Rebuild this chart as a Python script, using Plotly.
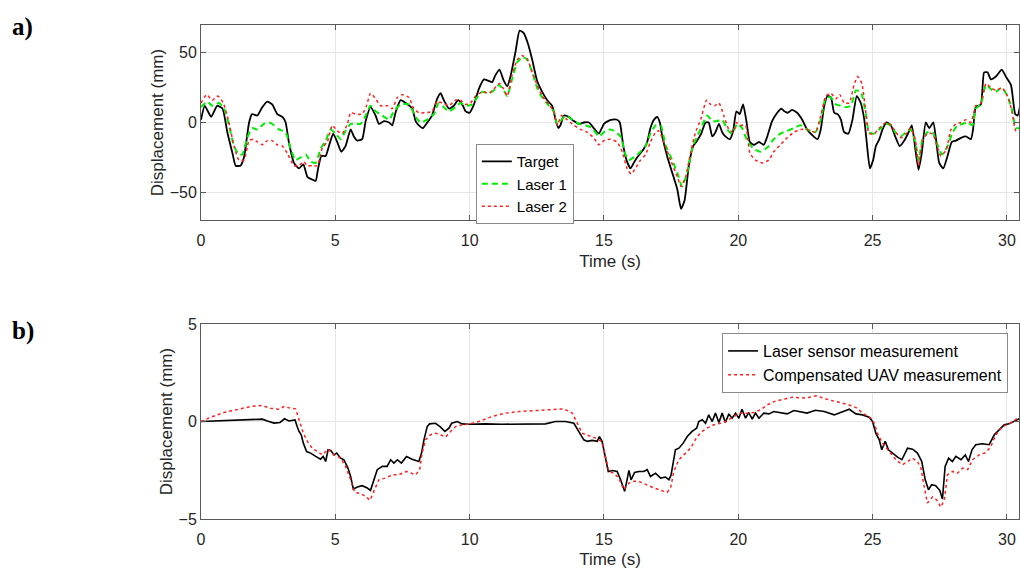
import plotly.graph_objects as go

# ---------------- Panel a) data ----------------
target_t = [0, 0.14, 0.38, 0.6, 0.8, 0.98, 1.17, 1.29, 1.47, 1.6, 1.79, 1.9, 2.1, 2.28, 2.47, 2.65, 2.84, 3.03, 3.15, 3.27, 3.46, 3.65, 3.81, 3.96, 4.14, 4.27, 4.35, 4.48, 4.64, 4.76, 4.92, 5.07, 5.22, 5.38, 5.57, 5.69, 5.82, 6.0, 6.13, 6.31, 6.5, 6.62, 6.81, 7.0, 7.12, 7.24, 7.43, 7.62, 7.86, 7.99, 8.11, 8.26, 8.42, 8.6, 8.79, 8.92, 9.04, 9.23, 9.41, 9.57, 9.75, 9.85, 10.0, 10.16, 10.34, 10.53, 10.69, 10.84, 10.96, 11.11, 11.27, 11.4, 11.52, 11.71, 11.86, 12.02, 12.18, 12.33, 12.51, 12.7, 12.89, 13.07, 13.2, 13.3, 13.38, 13.51, 13.69, 13.88, 14.07, 14.25, 14.44, 14.62, 14.81, 15.0, 15.15, 15.31, 15.49, 15.59, 15.72, 15.84, 15.99, 16.11, 16.24, 16.36, 16.48, 16.61, 16.73, 16.86, 16.98, 17.08, 17.17, 17.35, 17.54, 17.73, 17.87, 18.0, 18.16, 18.32, 18.47, 18.62, 18.78, 18.9, 19.03, 19.15, 19.28, 19.4, 19.52, 19.69, 19.81, 19.93, 20.05, 20.18, 20.31, 20.43, 20.58, 20.77, 20.95, 21.08, 21.26, 21.45, 21.6, 21.72, 21.84, 22.0, 22.19, 22.38, 22.56, 22.75, 22.95, 23.07, 23.2, 23.32, 23.45, 23.57, 23.7, 23.82, 23.94, 24.1, 24.25, 24.41, 24.56, 24.69, 24.77, 24.9, 25.02, 25.12, 25.25, 25.37, 25.52, 25.68, 25.84, 26.01, 26.18, 26.34, 26.46, 26.59, 26.71, 26.83, 26.98, 27.11, 27.26, 27.36, 27.48, 27.63, 27.79, 27.95, 28.1, 28.29, 28.47, 28.66, 28.74, 28.84, 29.03, 29.15, 29.28, 29.4, 29.59, 29.81, 29.96, 30.15, 30.31, 30.4, 30.5]
target_y = [2, 12, 4, 12, 10, -7, -22, -31, -31, -25, 0, 6, 5, 11, 15, 13, 6, 4, 0, -14, -29, -33, -30, -39, -41, -42, -34, -24, -24, -17, -8, -14, -21, -17, -5, -10, -13, -12, 1, 11, 5, -1, 1, 0, -2, 7, 16, 14, 10, 1, -2, -4, 0, 5, 17, 21, 16, 10, 12, 16, 12, 8, 7, 13, 24, 31, 30, 29, 34, 38, 30, 26, 33, 51, 66, 64, 56, 45, 30, 22, 16, 12, 2, -4, -2, 5, 4, 1, -1, 0, 0, -4, -8, -1, 1, 2, 2, 0, -17, -27, -33, -29, -25, -22, -19, -14, -4, 2, 4, 0, -10, -24, -36, -48, -62, -56, -31, -17, -13, -8, 0, 0, -10, -7, -1, -7, -10, -12, -6, 8, 6, 13, 0, -14, -16, -14, -16, -10, 1, 7, 10, 8, 7, 9, 7, 2, -5, -9, -12, -5, 12, 19, 18, 7, 6, 2, -7, -8, 2, 19, 14, 2, -12, -33, -27, -17, -12, -5, 0, -2, -10, -17, -13, -7, -2, -19, -34, -22, 0, -4, 0, -12, -29, -33, -24, -14, -13, -11, -10, -12, -5, 11, 13, 36, 36, 31, 33, 38, 33, 27, 6, 5, 13]

laser1_t = [0, 0.24, 0.42, 0.67, 0.86, 1.04, 1.23, 1.41, 1.54, 1.72, 1.91, 2.1, 2.34, 2.53, 2.72, 2.9, 3.15, 3.34, 3.52, 3.71, 3.9, 4.08, 4.27, 4.45, 4.64, 4.83, 5.01, 5.2, 5.38, 5.57, 5.76, 5.94, 6.13, 6.31, 6.5, 6.75, 7.0, 7.18, 7.43, 7.74, 7.99, 8.17, 8.42, 8.67, 8.85, 9.04, 9.23, 9.47, 9.66, 9.85, 10.1, 10.28, 10.47, 10.72, 10.9, 11.09, 11.27, 11.4, 11.58, 11.77, 11.96, 12.14, 12.33, 12.51, 12.7, 12.95, 13.13, 13.26, 13.38, 13.57, 13.82, 14.07, 14.31, 14.56, 14.81, 15.06, 15.24, 15.37, 15.62, 15.8, 15.93, 16.11, 16.36, 16.55, 16.73, 16.92, 17.11, 17.29, 17.54, 17.73, 17.91, 18.1, 18.28, 18.47, 18.66, 18.84, 19.03, 19.21, 19.4, 19.59, 19.77, 19.96, 20.14, 20.33, 20.58, 20.83, 21.08, 21.32, 21.57, 21.82, 22.07, 22.32, 22.56, 22.87, 23.07, 23.26, 23.45, 23.63, 23.82, 24.0, 24.19, 24.38, 24.56, 24.75, 24.87, 25.06, 25.25, 25.5, 25.68, 25.87, 26.05, 26.24, 26.42, 26.59, 26.71, 26.86, 27.04, 27.23, 27.42, 27.58, 27.79, 27.98, 28.16, 28.35, 28.53, 28.72, 28.84, 29.03, 29.22, 29.4, 29.59, 29.81, 30.02, 30.18, 30.33, 30.5]
laser1_y = [11, 15, 12, 14, 10, -2, -17, -23, -23, -11, -4, -5, -1, 0, -2, -5, -7, -19, -27, -25, -23, -28, -29, -19, -13, -5, -8, -12, -6, -1, -1, -1, 5, 12, 8, 5, 2, 8, 13, 13, 4, 0, 2, 6, 14, 11, 8, 11, 14, 12, 13, 18, 22, 21, 23, 27, 23, 19, 31, 43, 47, 45, 36, 25, 18, 12, 8, -1, 1, 5, 2, -1, -2, -4, -10, -6, -5, -6, -10, -23, -27, -25, -21, -17, -8, -2, -2, -16, -27, -36, -46, -36, -19, -10, -2, 5, 1, 1, 2, -5, -8, -1, -4, -13, -19, -21, -18, -12, -8, -6, -4, -2, -5, -7, 2, 18, 18, 13, 12, 11, 12, 23, 22, 6, -7, -8, -5, -1, -2, -8, -10, -7, -5, -14, -27, -12, -7, -7, -16, -23, -17, -7, -2, -1, 0, -2, 10, 13, 27, 24, 22, 25, 19, 10, -4, -4]

laser2_t = [0, 0.21, 0.42, 0.63, 0.83, 1.04, 1.23, 1.41, 1.6, 1.79, 1.95, 2.1, 2.28, 2.47, 2.65, 2.84, 3.03, 3.21, 3.46, 3.65, 3.81, 3.96, 4.14, 4.33, 4.52, 4.7, 4.89, 5.07, 5.26, 5.45, 5.57, 5.76, 6.0, 6.16, 6.31, 6.5, 6.69, 6.94, 7.12, 7.31, 7.49, 7.74, 7.92, 8.11, 8.36, 8.6, 8.79, 8.98, 9.23, 9.47, 9.66, 9.85, 10.03, 10.22, 10.47, 10.72, 10.9, 11.11, 11.27, 11.4, 11.58, 11.77, 11.96, 12.14, 12.33, 12.51, 12.7, 12.95, 13.13, 13.26, 13.42, 13.63, 13.88, 14.13, 14.38, 14.62, 14.81, 15.0, 15.24, 15.49, 15.68, 15.86, 16.01, 16.17, 16.36, 16.55, 16.73, 16.92, 17.04, 17.23, 17.48, 17.73, 17.87, 18.04, 18.22, 18.41, 18.6, 18.82, 18.97, 19.12, 19.28, 19.46, 19.65, 19.81, 19.93, 20.08, 20.27, 20.43, 20.64, 20.89, 21.14, 21.32, 21.57, 21.82, 22.07, 22.32, 22.56, 22.87, 23.07, 23.26, 23.45, 23.63, 23.78, 23.94, 24.13, 24.31, 24.44, 24.6, 24.75, 24.87, 25.06, 25.25, 25.5, 25.68, 25.87, 26.05, 26.24, 26.42, 26.59, 26.71, 26.86, 27.04, 27.23, 27.42, 27.54, 27.73, 27.92, 28.1, 28.29, 28.47, 28.66, 28.84, 29.03, 29.22, 29.4, 29.59, 29.81, 30.02, 30.2, 30.33, 30.5]
laser2_y = [14, 20, 16, 19, 14, 0, -17, -27, -27, -13, -12, -14, -16, -13, -13, -16, -17, -22, -31, -31, -28, -31, -31, -31, -18, -14, -2, -6, -8, -1, 7, 6, 6, 12, 21, 17, 12, 12, 10, 18, 20, 18, 10, 7, 7, 8, 15, 14, 12, 16, 16, 13, 14, 19, 22, 21, 24, 28, 24, 19, 34, 45, 48, 46, 36, 27, 19, 13, 8, -2, 5, 2, -2, -5, -7, -11, -16, -13, -12, -14, -21, -33, -37, -33, -27, -23, -14, -7, -6, -14, -27, -39, -46, -39, -22, -7, 2, 16, 13, 12, 14, 5, -5, -7, 0, -2, -2, -22, -27, -29, -27, -21, -16, -11, -7, -5, -5, -7, 5, 19, 21, 17, 20, 14, 14, 27, 33, 28, 7, -8, -8, -4, 0, -2, -7, -11, -8, -4, -12, -31, -13, -8, -8, -18, -24, -20, -5, -1, 0, 2, 0, 12, 14, 28, 25, 23, 25, 19, 7, -6, -7]

# ---------------- Panel b) data ----------------
sensor_t = [0, 0.61, 1.35, 1.85, 2.28, 2.47, 2.72, 2.94, 3.11, 3.27, 3.5, 3.58, 3.65, 3.73, 3.81, 3.93, 4.08, 4.27, 4.45, 4.55, 4.64, 4.73, 4.83, 4.95, 5.05, 5.2, 5.32, 5.47, 5.57, 5.67, 5.82, 6.0, 6.19, 6.31, 6.41, 6.56, 6.75, 6.93, 7.06, 7.18, 7.31, 7.46, 7.65, 7.86, 8.11, 8.21, 8.3, 8.42, 8.51, 8.73, 8.92, 9.08, 9.23, 9.33, 9.54, 9.72, 9.97, 10.59, 11.21, 11.96, 12.82, 13.2, 13.57, 13.88, 14.07, 14.25, 14.38, 14.56, 14.75, 14.83, 14.93, 15.06, 15.16, 15.31, 15.49, 15.62, 15.77, 15.86, 15.93, 16.01, 16.14, 16.3, 16.48, 16.61, 16.73, 16.92, 17.11, 17.29, 17.42, 17.5, 17.58, 17.66, 17.79, 17.95, 18.1, 18.28, 18.45, 18.53, 18.66, 18.78, 18.9, 19.03, 19.15, 19.28, 19.4, 19.52, 19.65, 19.77, 19.9, 20.02, 20.14, 20.27, 20.39, 20.52, 20.64, 20.77, 20.95, 21.14, 21.32, 21.57, 21.82, 22.07, 22.32, 22.56, 22.87, 23.2, 23.57, 23.88, 24.13, 24.38, 24.63, 24.87, 25.0, 25.12, 25.25, 25.34, 25.47, 25.59, 25.74, 25.93, 26.09, 26.18, 26.3, 26.49, 26.67, 26.83, 26.96, 27.08, 27.2, 27.35, 27.5, 27.6, 27.7, 27.83, 27.97, 28.1, 28.29, 28.45, 28.57, 28.7, 28.84, 29.09, 29.34, 29.53, 29.71, 29.9, 30.08, 30.5]
sensor_y = [0, 0.03, 0.08, 0.12, 0.12, 0.03, -0.08, -0.05, 0.14, 0.03, 0.08, -0.26, -0.51, -0.68, -1.11, -1.54, -1.62, -1.79, -1.93, -1.79, -2.05, -1.45, -1.48, -1.71, -1.62, -1.88, -1.96, -2.39, -2.82, -3.46, -3.36, -3.29, -3.41, -3.53, -3.07, -2.47, -2.3, -2.3, -1.96, -2.13, -1.96, -2.13, -1.79, -1.93, -2.05, -1.62, -0.94, -0.26, -0.12, -0.09, -0.29, -0.51, -0.34, -0.09, 0, -0.12, -0.14, -0.12, -0.14, -0.12, -0.12, 0, 0, -0.09, -0.51, -0.94, -1.02, -0.97, -1.02, -0.77, -1.02, -1.96, -2.56, -2.51, -2.56, -2.99, -3.58, -2.99, -2.51, -2.99, -2.61, -2.56, -2.56, -2.47, -2.82, -2.65, -2.9, -2.85, -2.99, -2.73, -1.96, -1.45, -1.37, -1.11, -0.77, -0.51, -0.34, 0, 0.09, -0.09, 0.34, 0, 0.43, -0.05, 0.43, -0.05, 0.39, 0.17, 0.43, 0.17, 0.63, 0.17, 0.46, 0.12, 0.43, 0.17, 0.43, 0.39, 0.51, 0.46, 0.39, 0.56, 0.51, 0.43, 0.58, 0.51, 0.34, 0.51, 0.63, 0.39, 0.34, 0.22, 0, -0.6, -0.94, -1.45, -1.02, -1.45, -1.62, -1.83, -1.96, -1.71, -1.37, -1.42, -1.62, -2.05, -2.99, -3.5, -3.24, -3.29, -3.53, -3.98, -2.3, -1.88, -2.05, -1.79, -1.96, -1.71, -2.05, -1.45, -1.19, -1.14, -1.19, -0.68, -0.43, -0.17, -0.12, 0.17]

uav_t = [0, 0.36, 0.85, 1.35, 1.85, 2.28, 2.59, 2.9, 3.09, 3.34, 3.52, 3.65, 3.81, 3.96, 4.14, 4.33, 4.52, 4.73, 4.95, 5.2, 5.38, 5.57, 5.72, 5.94, 6.13, 6.29, 6.44, 6.62, 6.87, 7.12, 7.37, 7.65, 7.99, 8.14, 8.23, 8.36, 8.54, 8.73, 8.92, 9.1, 9.29, 9.48, 9.72, 9.97, 10.34, 10.84, 11.34, 11.83, 12.45, 13.07, 13.51, 13.82, 14.0, 14.19, 14.44, 14.69, 14.91, 15.06, 15.18, 15.37, 15.55, 15.74, 15.93, 16.11, 16.3, 16.55, 16.86, 17.11, 17.35, 17.48, 17.6, 17.79, 17.97, 18.22, 18.47, 18.66, 18.84, 19.09, 19.34, 19.59, 19.84, 20.08, 20.33, 20.58, 20.83, 21.08, 21.32, 21.57, 22.02, 22.5, 22.9, 23.38, 23.76, 24.13, 24.4, 24.63, 24.94, 25.06, 25.18, 25.37, 25.62, 25.87, 26.11, 26.3, 26.49, 26.67, 26.8, 26.92, 27.04, 27.23, 27.38, 27.54, 27.67, 27.79, 27.98, 28.16, 28.35, 28.54, 28.72, 28.97, 29.22, 29.4, 29.59, 29.84, 30.08, 30.5]
uav_y = [0, 0.22, 0.46, 0.63, 0.77, 0.82, 0.68, 0.63, 0.77, 0.68, 0.65, 0.09, -0.6, -1.02, -1.37, -1.54, -1.71, -1.42, -1.71, -1.88, -2.3, -2.99, -3.63, -3.7, -3.84, -4.04, -3.58, -2.99, -2.9, -2.73, -2.73, -2.56, -2.73, -2.47, -1.62, -0.94, -0.68, -0.6, -0.68, -0.8, -0.51, -0.26, -0.17, -0.14, 0, 0.26, 0.43, 0.51, 0.56, 0.6, 0.65, 0.43, -0.09, -0.6, -0.73, -0.85, -1.02, -1.79, -2.56, -2.65, -2.9, -3.5, -3.16, -3.07, -3.07, -3.24, -3.41, -3.53, -3.63, -3.41, -2.56, -1.96, -1.71, -1.37, -0.77, -0.51, -0.34, -0.17, -0.09, 0.05, 0.26, 0.43, 0.43, 0.46, 0.6, 0.85, 1.02, 1.11, 1.25, 1.2, 1.32, 1.11, 0.97, 0.85, 0.7, 0.43, 0.17, -0.09, -0.6, -1.11, -1.54, -1.96, -2.22, -2.05, -1.88, -2.05, -2.39, -3.33, -4.18, -3.87, -4.01, -4.39, -4.01, -2.73, -2.56, -2.65, -2.39, -2.47, -1.96, -1.71, -1.59, -1.28, -0.68, -0.26, -0.12, 0.26]

x_ticks = [0, 5, 10, 15, 20, 25, 30]
ya_ticks = [-50, 0, 50]
yb_ticks = [-5, 0, 5]

FONT = "Liberation Sans, Arial, sans-serif"
TXT = "#262626"
AX = "#5a5a5a"
GRID = "#e6e6e6"

fig = go.Figure()
fig.add_trace(go.Scatter(x=target_t, y=target_y, name="Target", mode="lines",
                         line=dict(color="black", width=1.8, shape="spline", smoothing=0.5),
                         xaxis="x", yaxis="y", legend="legend"))
fig.add_trace(go.Scatter(x=laser1_t, y=laser1_y, name="Laser 1", mode="lines",
                         line=dict(color="#00ee00", width=2, dash="6px,4px", shape="spline", smoothing=0.5),
                         xaxis="x", yaxis="y", legend="legend"))
fig.add_trace(go.Scatter(x=laser2_t, y=laser2_y, name="Laser 2", mode="lines",
                         line=dict(color="#ff2020", width=1.5, dash="dot", shape="spline", smoothing=0.5),
                         xaxis="x", yaxis="y", legend="legend"))
fig.add_trace(go.Scatter(x=sensor_t, y=sensor_y, name="Laser sensor measurement", mode="lines",
                         line=dict(color="black", width=1.6),
                         xaxis="x2", yaxis="y2", legend="legend2"))
fig.add_trace(go.Scatter(x=uav_t, y=uav_y, name="Compensated UAV measurement", mode="lines",
                         line=dict(color="#ff2020", width=1.5, dash="dot"),
                         xaxis="x2", yaxis="y2", legend="legend2"))

axis_common = dict(showline=True, linecolor=AX, linewidth=1, mirror="ticks",
                   ticks="inside", ticklen=5, tickcolor=AX, automargin=False,
                   showgrid=True, gridcolor=GRID, gridwidth=1, zeroline=False,
                   tickfont=dict(family=FONT, size=16, color=TXT))

title_font = dict(family=FONT, size=17, color=TXT)

fig.update_layout(
    width=1020, height=569,
    paper_bgcolor="white", plot_bgcolor="white",
    margin=dict(l=201, r=1, t=25, b=50, autoexpand=False),
    showlegend=True,
    xaxis=dict(domain=[0, 1], range=[0, 30.45], tickvals=x_ticks, anchor="y",
               ticklabelstandoff=6,
               title=dict(text="Time (s)", font=title_font, standoff=6),
               **axis_common),
    yaxis=dict(domain=[0.6053, 1], range=[-70, 70], tickvals=ya_ticks, anchor="x",
               title=dict(text="Displacement (mm)", font=title_font, standoff=1),
               **axis_common),
    xaxis2=dict(domain=[0, 1], range=[0, 30.45], tickvals=x_ticks, anchor="y2",
                ticklabelstandoff=6,
                title=dict(text="Time (s)", font=title_font, standoff=6),
                **axis_common),
    yaxis2=dict(domain=[0, 0.3947], range=[-5, 5], tickvals=yb_ticks, anchor="x2",
                title=dict(text="Displacement (mm)", font=title_font, standoff=1),
                **axis_common),
    legend=dict(x=0.336, y=0.759, xanchor="left", yanchor="top",
                bgcolor="white", bordercolor="#8a8a8a", borderwidth=1,
                font=dict(family=FONT, size=15, color="black"),
                tracegroupgap=0, itemwidth=30),
    legend2=dict(x=0.637, y=0.3765, xanchor="left", yanchor="top",
                 bgcolor="white", bordercolor="#8a8a8a", borderwidth=1,
                 font=dict(family=FONT, size=16, color="black"),
                 tracegroupgap=0, itemwidth=30),
    annotations=[
        dict(text="<b>a)</b>", x=-0.2335, y=0.995, xref="paper", yref="paper",
             xanchor="left", yanchor="middle", showarrow=False,
             font=dict(family="Liberation Serif, DejaVu Serif, serif", size=25, color="black")),
        dict(text="<b>b)</b>", x=-0.2335, y=0.38, xref="paper", yref="paper",
             xanchor="left", yanchor="middle", showarrow=False,
             font=dict(family="Liberation Serif, DejaVu Serif, serif", size=25, color="black")),
    ],
)

fig.write_html("out.html", config={"displayModeBar": False},
               post_script="document.body.style.margin='0';document.body.style.overflow='hidden';")
